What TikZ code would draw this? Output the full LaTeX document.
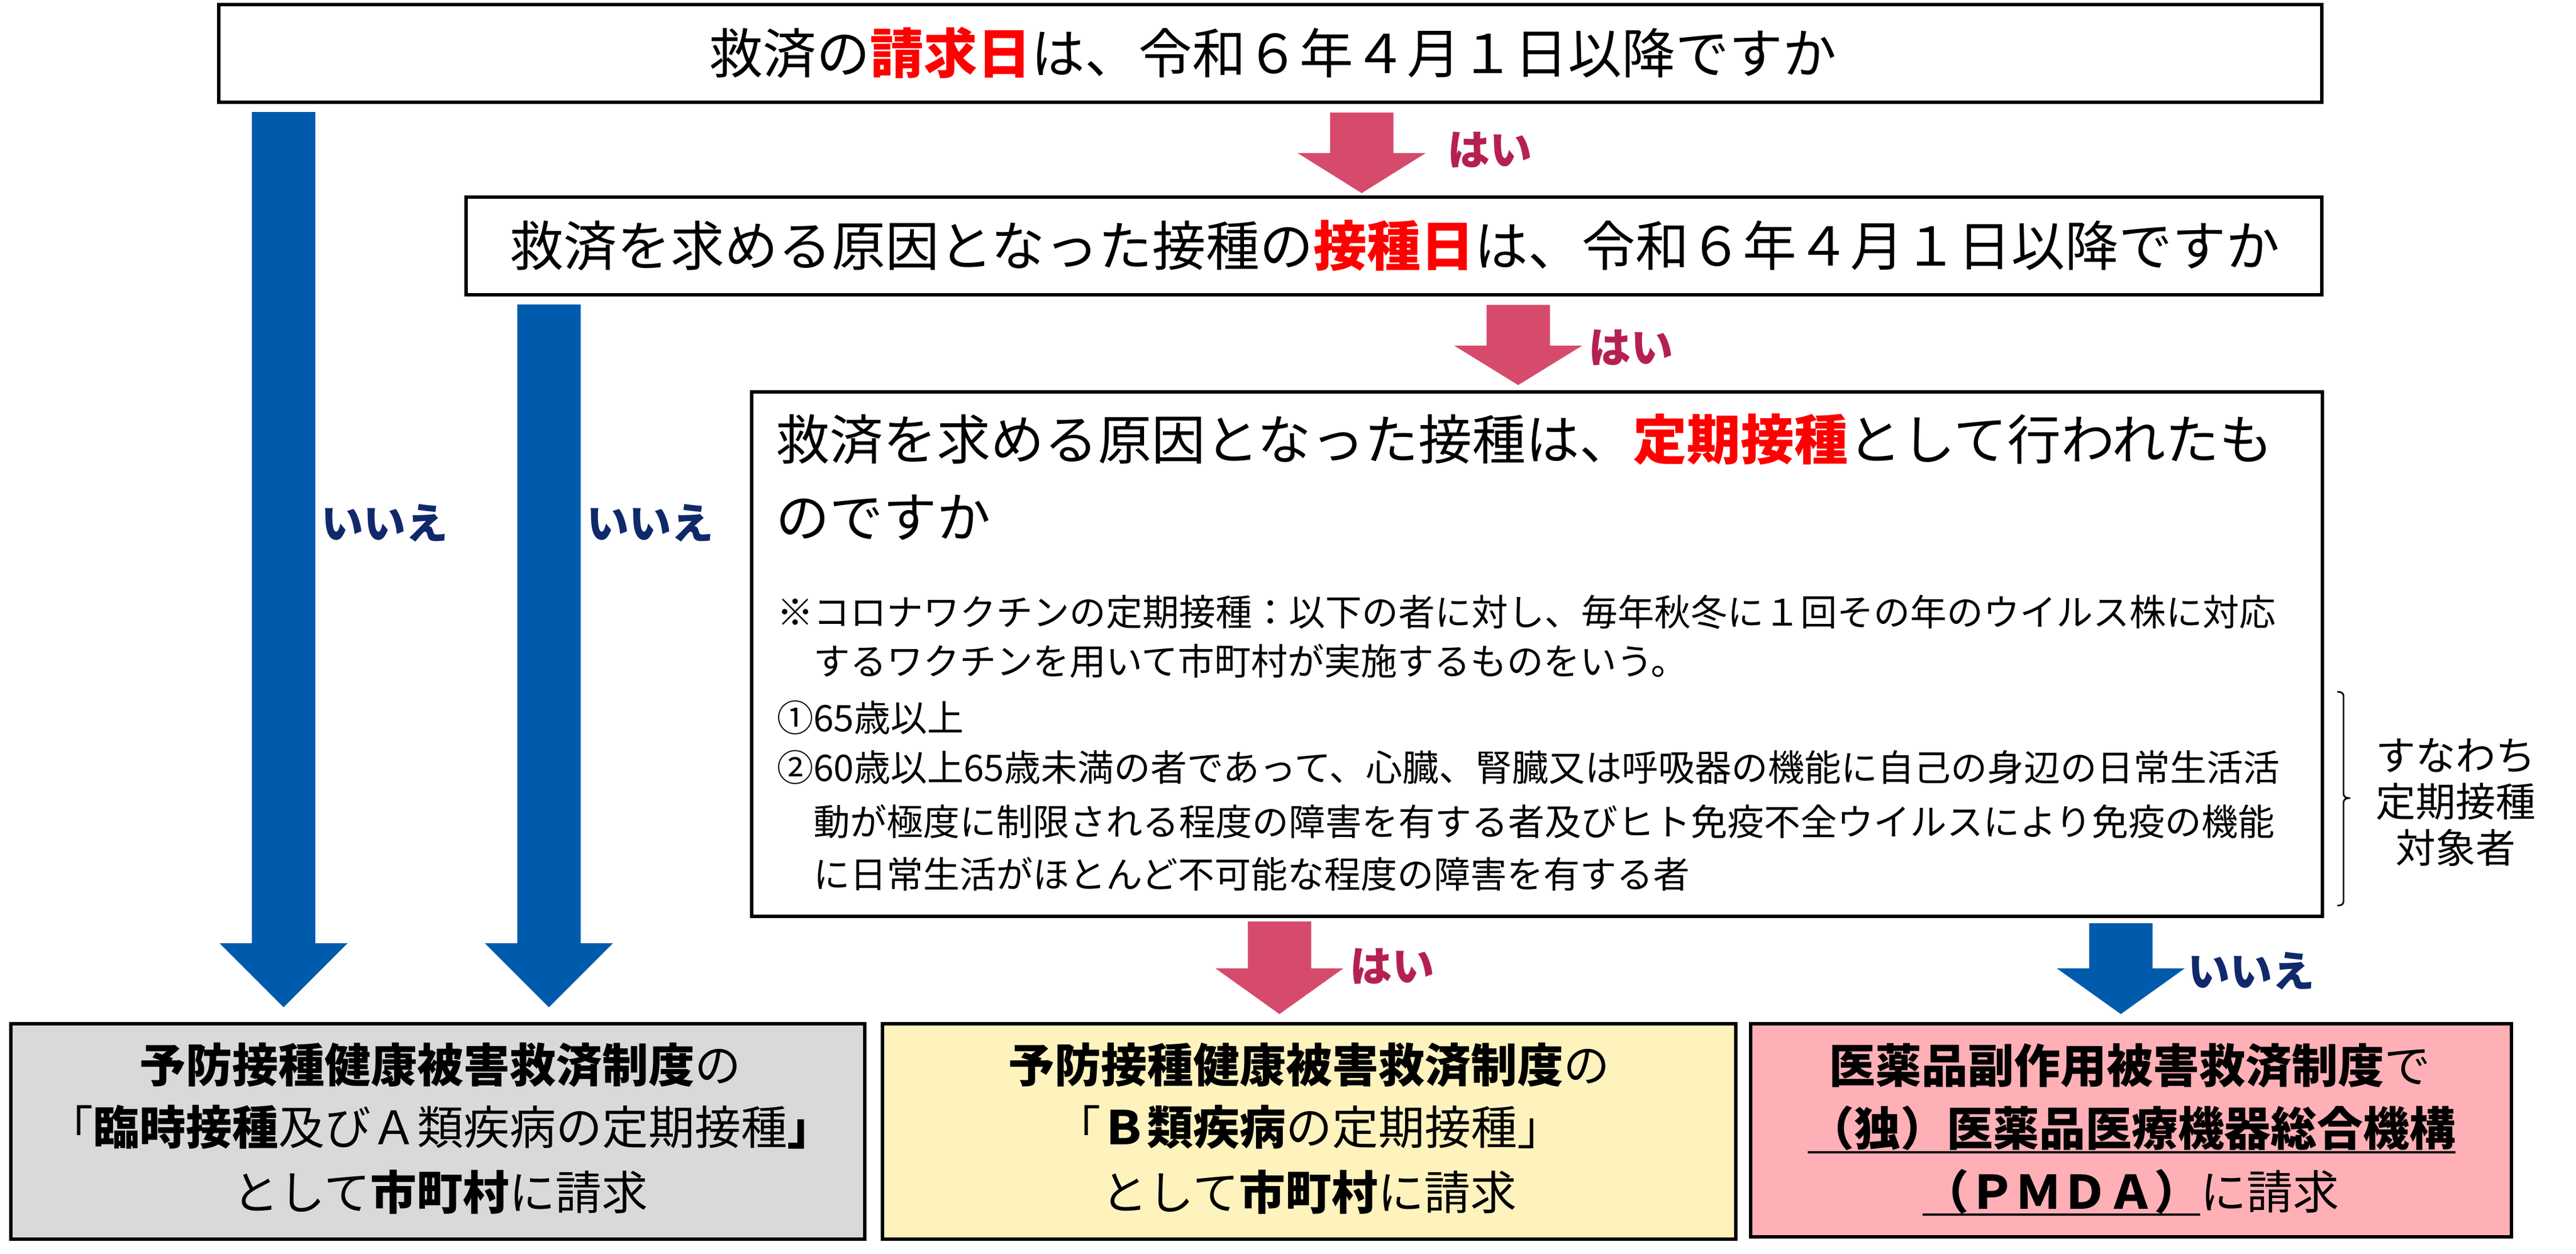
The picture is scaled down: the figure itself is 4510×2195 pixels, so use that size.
\documentclass[tikz,border=0pt]{standalone}
\usepackage{fontspec}
\setmainfont{Noto Sans CJK JP}
\usetikzlibrary{calc}
\definecolor{arrowblue}{HTML}{005BAC}
\definecolor{arrowpink}{HTML}{D64B6C}
\definecolor{haicol}{HTML}{B5214F}
\definecolor{iiecol}{HTML}{10296B}
\definecolor{titlered}{HTML}{FF0000}
\definecolor{fillgray}{HTML}{D9D9D9}
\definecolor{fillyellow}{HTML}{FFF3BD}
\definecolor{fillpink}{HTML}{FFB0B6}
\newcommand\fbig{\fontsize{23.5pt}{28pt}\selectfont}
\newcommand\fsmall{\fontsize{16pt}{20pt}\selectfont}
\newcommand\fmid{\fontsize{20.25pt}{24pt}\selectfont}
\newcommand\flab{\fontsize{18.5pt}{22pt}\selectfont\bfseries}
\newcommand\fside{\fontsize{17.5pt}{20.25pt}\selectfont}
\newcommand\blockarr[4]{%
  \fill[#1] ($(#2)+(-55.5,0)$) -- ($(#2)+(55.5,0)$) -- ($(#3)+(55.5,-#4)$)
    -- ($(#3)+(112,-#4)$) -- (#3) -- ($(#3)+(-112,-#4)$)
    -- ($(#3)+(-55.5,-#4)$) -- cycle;}
\tikzset{
  box/.style={draw=black, line width=1.5pt, rectangle, inner sep=0pt, outer sep=0pt},
  txt/.style={inner sep=0pt, outer sep=0pt},
  hai/.style={txt, text=haicol, font=\flab},
  iie/.style={txt, text=iiecol, font=\flab},
}
\begin{document}
\begin{tikzpicture}[x=0.25pt,y=-0.25pt]
\useasboundingbox (0,0) rectangle (4510,2195);
% boxes
\node[box, minimum width=920.5pt, minimum height=42.75pt] (b1) at (2224,93.5) {};
\node[box, minimum width=812.25pt, minimum height=42.875pt] (b2) at (2440.5,430.25) {};
\node[box, minimum width=687.5pt, minimum height=229.5pt] (b3) at (2691,1145) {};
\node[box, fill=fillgray, minimum width=373.75pt, minimum height=94.375pt] (b4) at (766.5,1980.25) {};
\node[box, fill=fillyellow, minimum width=373.5pt, minimum height=94.375pt] (b5) at (2292,1980.25) {};
\node[box, fill=fillpink, minimum width=333pt, minimum height=93.375pt] (b6) at (3731,1978.25) {};
% arrow coordinates
\coordinate (a1s) at ($(b1.south west)+(113.5,17)$);
\coordinate (a1e) at ($(a1s |- b4.north)+(0,-28.5)$);
\coordinate (a2s) at ($(b2.south west)+(145,17)$);
\coordinate (a2e) at ($(a2s |- b4.north)+(0,-28.5)$);
\coordinate (p1s) at (2384,197);
\coordinate (p1e) at ($(p1s |- b2.north)+(0,-6.5)$);
\coordinate (p2s) at ($(2658,0 |- b2.south)+(0,17.5)$);
\coordinate (p2e) at ($(p2s |- b3.north)+(0,-12)$);
\coordinate (p3s) at ($(2240,0 |- b3.south)+(0,9)$);
\coordinate (p3e) at ($(p3s |- b5.north)+(0,-16.5)$);
\coordinate (a4s) at ($(3713,0 |- b3.south)+(0,12)$);
\coordinate (a4e) at ($(a4s |- b6.north)+(0,-16.5)$);
\blockarr{arrowblue}{a1s}{a1e}{112}
\blockarr{arrowblue}{a2s}{a2e}{112}
\blockarr{arrowpink}{p1s}{p1e}{70}
\blockarr{arrowpink}{p2s}{p2e}{69}
\blockarr{arrowpink}{p3s}{p3e}{80}
\blockarr{arrowblue}{a4s}{a4e}{80}
% labels
\node[hai] (h1) at (2608,262) {はい};
\node[hai] (h2) at (2855,608) {はい};
\node[hai] (h3) at (2437,1691) {はい};
\node[iie] (n1) at (673,916) {いいえ};
\node[iie] (n2) at (1138,916) {いいえ};
\node[iie] (n3) at (3941,1700) {いいえ};
% question texts
\node[txt, font=\fbig] (t1) at (2228,92) {救済の{\color{titlered}\bfseries 請求日}は、令和６年４月１日以降ですか};
\node[txt, font=\fbig] (t2) at (2442,430) {救済を求める原因となった接種の{\color{titlered}\bfseries 接種日}は、令和６年４月１日以降ですか};
\node[txt, font=\fbig, anchor=west] (t3a) at (1358,769) {救済を求める原因となった接種は、{\color{titlered}\bfseries 定期接種}として行われたも};
\node[txt, font=\fbig, anchor=west] (t3b) at (1358,906) {のですか};
\node[txt, font=\fsmall, anchor=west] (s1) at (1360,1071) {※コロナワクチンの定期接種：以下の者に対し、毎年秋冬に１回その年のウイルス株に対応};
\node[txt, font=\fsmall, anchor=west] (s2) at (1424,1157) {するワクチンを用いて市町村が実施するものをいう。};
\node[txt, font=\fsmall, anchor=west] (s3) at (1360,1256) {①65歳以上};
\node[txt, font=\fsmall, anchor=west] (s4) at (1360,1343) {②60歳以上65歳未満の者であって、心臓、腎臓又は呼吸器の機能に自己の身辺の日常生活活};
\node[txt, font=\fsmall, anchor=west] (s5) at (1424,1438) {動が極度に制限される程度の障害を有する者及びヒト免疫不全ウイルスにより免疫の機能};
\node[txt, font=\fsmall, anchor=west] (s6) at (1424,1530) {に日常生活がほとんど不可能な程度の障害を有する者};
% bracket
\draw[line width=0.7pt] (4092,1211) .. controls (4100,1211) and (4103,1213) .. (4103,1220)
  -- (4103,1388) .. controls (4103,1395) and (4106,1397) .. (4115,1397)
  .. controls (4106,1397) and (4103,1399) .. (4103,1406)
  -- (4103,1576) .. controls (4103,1583) and (4100,1585) .. (4092,1585);
\node[txt, font=\fside, align=center] (side) at (4299,1404) {すなわち\\定期接種\\対象者};
% result box texts
\node[txt, font=\fmid] (r4a) at (771,1864) {{\bfseries 予防接種健康被害救済制度}の};
\node[txt, font=\fmid] (r4b) at (771,1973) {「{\bfseries 臨時接種}及びＡ類疾病の定期接種{\bfseries 」}};
\node[txt, font=\fmid] (r4c) at (771,2087) {として{\bfseries 市町村}に請求};
\node[txt, font=\fmid] (r5a) at (2292,1864) {{\bfseries 予防接種健康被害救済制度}の};
\node[txt, font=\fmid] (r5b) at (2292,1973) {「{\bfseries Ｂ類疾病}の定期接種」};
\node[txt, font=\fmid] (r5c) at (2292,2087) {として{\bfseries 市町村}に請求};
\node[txt, font=\fmid, anchor=base] (r6a) at (3729,1895) {{\bfseries 医薬品副作用被害救済制度}で};
\node[txt, font=\fmid\bfseries, anchor=base] (r6b) at (3732,2005) {（独）医薬品医療機器総合機構};
\node[txt, font=\fmid\bfseries, anchor=base west] (r6c) at (3366,2116) {（ＰＭＤＡ）};
\node[txt, font=\fmid, anchor=base west] (r6d) at (r6c.base east) {に請求};
\draw[line width=1pt] ($(r6b.base west)+(0,12)$) -- ($(r6b.base east)+(0,12)$);
\draw[line width=1pt] ($(r6c.base west)+(0,10)$) -- ($(r6c.base east)+(0,10)$);
\end{tikzpicture}
\end{document}
